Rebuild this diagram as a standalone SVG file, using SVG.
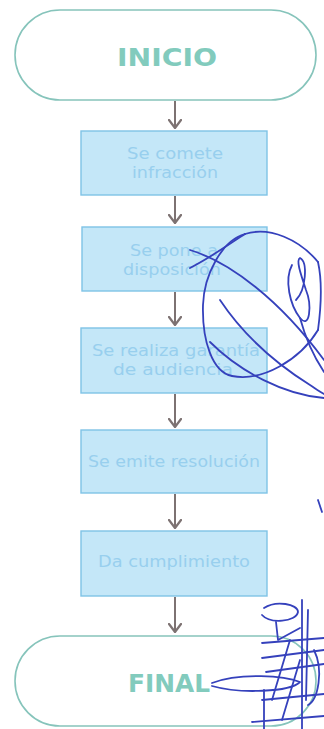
<svg xmlns="http://www.w3.org/2000/svg" width="324" height="729" viewBox="0 0 324 729">
  <style>
    .term { fill: #ffffff; stroke: #86c4bb; stroke-width: 1.6; }
    .term-label { font-family: "DejaVu Sans", "Liberation Sans", sans-serif; font-weight: 700; font-size: 24px; fill: #82cbbd; text-anchor: middle; }
    .step { fill: #c4e7f8; stroke: #7fc3e6; stroke-width: 1.4; }
    .step-label { font-family: "DejaVu Sans", "Liberation Sans", sans-serif; font-size: 15px; fill: #98cfee; text-anchor: middle; }
    .flow { stroke: #7d7272; stroke-width: 2; fill: none; }
    .ink { stroke: #3541bc; stroke-width: 1.8; fill: none; stroke-linecap: round; stroke-linejoin: round; }
  </style>
  <defs>
    <!-- chevron tip, drawn pointing along +x so orient="auto" turns it down the line -->
    <marker id="chev" viewBox="0 0 10 14" refX="9" refY="7" markerWidth="10" markerHeight="14" markerUnits="userSpaceOnUse" orient="auto">
      <path d="M1,1 L9,7 L1,13" fill="none" stroke="#7d7272" stroke-width="2.2" stroke-linecap="round" stroke-linejoin="round"/>
    </marker>
  </defs>
  <rect width="324" height="729" fill="#ffffff"/>

  <!-- connectors -->
  <g id="connectors">
    <line class="flow" x1="175" y1="101" x2="175" y2="128" marker-end="url(#chev)"/>
    <line class="flow" x1="175" y1="196" x2="175" y2="223" marker-end="url(#chev)"/>
    <line class="flow" x1="175" y1="292" x2="175" y2="325" marker-end="url(#chev)"/>
    <line class="flow" x1="175" y1="394" x2="175" y2="427" marker-end="url(#chev)"/>
    <line class="flow" x1="175" y1="494" x2="175" y2="528" marker-end="url(#chev)"/>
    <line class="flow" x1="175" y1="597" x2="175" y2="632" marker-end="url(#chev)"/>
  </g>

  <g id="inicio">
    <rect class="term" x="15" y="10" width="301" height="90" rx="45" ry="45"/>
    <text class="term-label" x="167" y="66" textLength="100" lengthAdjust="spacingAndGlyphs">INICIO</text>
  </g>

  <g id="paso1">
    <rect class="step" x="81" y="131" width="186" height="64"/>
    <text class="step-label" x="175" y="159" textLength="96" lengthAdjust="spacingAndGlyphs">Se comete</text>
    <text class="step-label" x="175" y="178" textLength="86" lengthAdjust="spacingAndGlyphs">infracción</text>
  </g>

  <g id="paso2">
    <rect class="step" x="82" y="227" width="185" height="64"/>
    <text class="step-label" x="174" y="256" textLength="88" lengthAdjust="spacingAndGlyphs">Se pone a</text>
    <text class="step-label" x="172" y="275" textLength="98" lengthAdjust="spacingAndGlyphs">disposición</text>
  </g>

  <g id="paso3">
    <rect class="step" x="81" y="328" width="186" height="65"/>
    <text class="step-label" x="176" y="356" textLength="168" lengthAdjust="spacingAndGlyphs">Se realiza garantía</text>
    <text class="step-label" x="173" y="375" textLength="120" lengthAdjust="spacingAndGlyphs">de audiencia</text>
  </g>

  <g id="paso4">
    <rect class="step" x="81" y="430" width="186" height="63"/>
    <text class="step-label" x="174" y="467" textLength="172" lengthAdjust="spacingAndGlyphs">Se emite resolución</text>
  </g>

  <g id="paso5">
    <rect class="step" x="81" y="531" width="186" height="65"/>
    <text class="step-label" x="174" y="567" textLength="152" lengthAdjust="spacingAndGlyphs">Da cumplimiento</text>
  </g>

  <g id="final">
    <rect class="term" x="15" y="636" width="301" height="90" rx="45" ry="45"/>
    <text class="term-label" x="169" y="692" textLength="82" lengthAdjust="spacingAndGlyphs">FINAL</text>
  </g>

  <!-- handwritten initials over the right side -->
  <g id="firma-superior">
    <path class="ink" d="M245,234 C222,240 204,275 203,305 C202,340 212,372 232,376 C262,382 300,360 318,330"/>
    <path class="ink" d="M245,234 C270,226 300,240 318,262"/>
    <path class="ink" d="M190,268 C215,255 235,240 245,234"/>
    <path class="ink" d="M190,250 C230,262 280,300 324,360"/>
    <path class="ink" d="M220,300 C240,330 270,360 310,385 C316,389 320,392 324,394"/>
    <path class="ink" d="M210,342 C240,372 285,395 324,398"/>
    <path class="ink" d="M292,265 C284,280 290,305 300,318 C310,330 312,305 306,290 C300,272 296,260 300,258 C308,262 306,290 296,300"/>
    <path class="ink" d="M300,318 C306,340 316,360 324,372"/>
    <path class="ink" d="M318,262 C322,280 322,300 318,330"/>
  </g>

  <g id="firma-inferior">
    <path class="ink" d="M302,600 L302,729"/>
    <path class="ink" d="M308,610 L306,700"/>
    <path class="ink" d="M264,608 C276,600 298,604 298,612 C296,622 270,624 262,615"/>
    <path class="ink" d="M276,622 L278,640 L300,628"/>
    <path class="ink" d="M262,643 L324,638"/>
    <path class="ink" d="M262,658 L324,650"/>
    <path class="ink" d="M266,672 L324,664"/>
    <path class="ink" d="M212,683 C240,672 285,676 300,682 C290,692 240,694 212,686"/>
    <path class="ink" d="M262,700 L324,694"/>
    <path class="ink" d="M252,722 L324,716"/>
    <path class="ink" d="M264,690 L264,729"/>
    <path class="ink" d="M272,700 L290,640"/>
    <path class="ink" d="M282,720 L300,660"/>
    <path class="ink" d="M314,650 C324,670 318,700 308,705"/>
  </g>
  <path class="ink" d="M318,500 L322,512"/>
</svg>
